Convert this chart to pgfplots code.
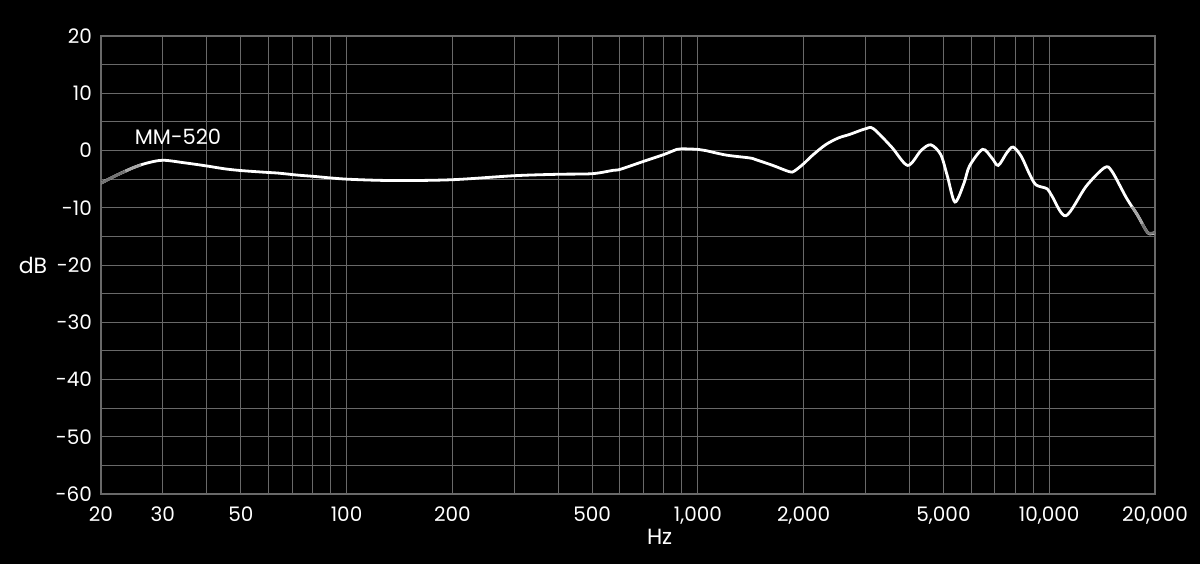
\documentclass[border=0pt]{standalone}
\usepackage{pgfplots}
\pgfplotsset{compat=1.18}
\usepackage{fontspec}
\setmainfont{Poppins}
\definecolor{gridc}{RGB}{105,105,105}
\begin{document}
\begin{tikzpicture}
\path[use as bounding box, fill=black] (-50.5pt,-35pt) rectangle (549.5pt,247pt);
\begin{axis}[
  at={(0,0)}, anchor=south west,
  scale only axis, width=527pt, height=229pt,
  xmode=log, log basis x=10,
  xmin=20, xmax=20000, ymin=-60, ymax=20,
  xtick={20,30,50,100,200,500,1000,2000,5000,10000,20000},
  xticklabels={20,30,50,100,200,500,{1,000},{2,000},{5,000},{10,000},{20,000}},
  minor xtick={40,60,70,80,90,300,400,600,700,800,900,3000,4000,6000,7000,8000,9000},
  ytick={-60,-50,...,20},
  yticklabels={-60,-50,-40,-30,-20,-10,0,10,20},
  minor ytick={-55,-45,...,15},
  grid=both,
  major grid style={gridc, line width=0.5pt},
  minor grid style={gridc, line width=0.5pt},
  axis line style={gridc, line width=0.6pt},
  major tick length=0pt, minor tick length=0pt,
  tick label style={white, font=\fontsize{10}{11}\selectfont},
  /pgf/number format/assume math mode=true,
  xticklabel style={yshift=-3pt},
  yticklabel style={xshift=-1pt},
  xlabel={Hz}, ylabel={dB},
  xlabel style={white, font=\fontsize{11}{12}\selectfont, at={(axis description cs:0.530,-0.094)}, anchor=center},
  ylabel style={white, font=\fontsize{11}{12}\selectfont, at={(axis description cs:-0.0645,0.5)}, rotate=-90, anchor=center},
]
\addplot[white, line width=1.4pt, smooth] coordinates {
(20,-5.7) (22,-4.4) (24.7,-3.0) (27,-2.2) (30,-1.7) (34.6,-2.15) (40,-2.7) (45,-3.2)
(50,-3.5) (58.6,-3.8) (64,-3.95) (72.7,-4.3) (80,-4.5) (100,-5.0) (137,-5.25) (200,-5.1)
(300,-4.4) (400,-4.15) (500,-4.05) (575,-3.45) (600,-3.3) (700,-1.9) (800,-0.7) (871,0.2)
(900,0.3) (1000,0.2) (1050,0.0) (1204,-0.8) (1405,-1.3) (1462,-1.6) (1633,-2.6) (1820,-3.7)
(1880,-3.6) (2000,-2.3) (2113,-0.9) (2307,1.0) (2512,2.2) (2700,2.8) (3000,3.8) (3160,3.8)
(3560,0.6) (3956,-2.6) (4315,0.0) (4600,1.0) (4910,-0.7) (5130,-4.5) (5390,-9.0) (5720,-5.7)
(5930,-2.7) (6460,0.2) (6865,-1.3) (7160,-2.6) (7570,-0.4) (7890,0.6) (8320,-1.0) (8800,-4.2)
(9170,-6.0) (9870,-6.7) (10190,-8.0) (11150,-11.4) (12735,-6.25) (14360,-3.0) (15070,-3.6)
(16590,-8.3) (17800,-11.2) (19100,-14.4) (20000,-14.3)
};
\addplot[white!45!black, line width=1.4pt, smooth] coordinates {
(20,-5.7) (22,-4.4) (23.5,-3.6)
};
\addplot[white!65!black, line width=1.4pt, smooth] coordinates {
(23.5,-3.6) (24.7,-3.0) (26,-2.5)
};
\addplot[white!65!black, line width=1.4pt, smooth] coordinates {
(17200,-9.8) (17800,-11.2) (18400,-12.8)
};
\addplot[white!45!black, line width=1.4pt, smooth] coordinates {
(18400,-12.8) (19100,-14.4) (20000,-14.3)
};
\node[white, font=\fontsize{10.5}{12}\selectfont] at (axis description cs:0.073,0.7795) {MM-520};
\end{axis}
\end{tikzpicture}
\end{document}
